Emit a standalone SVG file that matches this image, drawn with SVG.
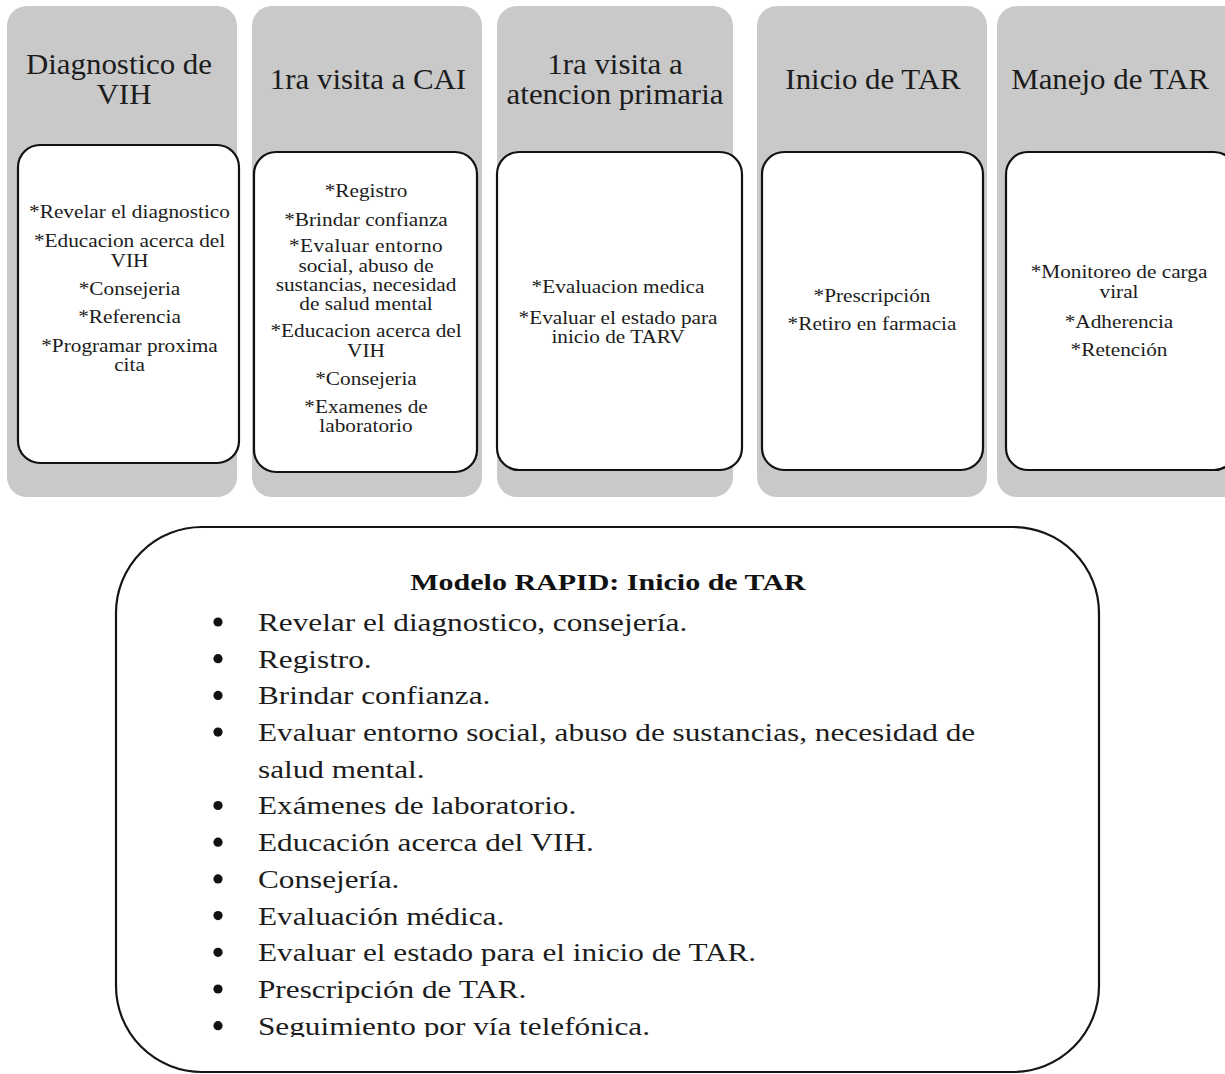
<svg xmlns="http://www.w3.org/2000/svg" width="1225" height="1074" viewBox="0 0 1225 1074">
  <defs>
    <style>
      .lane { fill: #c9c9c9; }
      .card { fill: #ffffff; stroke: #111111; stroke-width: 2.2; }
      .head { font-family: "Liberation Serif", "Times New Roman", serif; font-size: 29px; fill: #1c1c1c; text-anchor: middle; }
      .item { font-family: "Liberation Serif", "Times New Roman", serif; font-size: 19px; fill: #1c1c1c; text-anchor: middle; }
      .panel { fill: #ffffff; stroke: #151515; stroke-width: 2.2; }
      .ptitle { font-family: "Liberation Serif", "Times New Roman", serif; font-size: 24px; font-weight: bold; fill: #111111; text-anchor: middle; }
      .pitem { font-family: "Liberation Serif", "Times New Roman", serif; font-size: 25px; fill: #1c1c1c; }
      .dot { fill: #111111; }
    </style>
    <clipPath id="listClip">
      <rect x="100" y="500" width="1100" height="537"/>
    </clipPath>
  </defs>

  <rect width="1225" height="1074" fill="#ffffff"/>

  <!-- Stage 1 -->
  <g id="diagnostico">
    <rect class="lane" x="7" y="6" width="230" height="491" rx="20"/>
    <g transform="translate(119 0) scale(1.065 1)">
      <text class="head" x="0" y="74">Diagnostico de</text>
    </g>
    <g transform="translate(124 0) scale(1.065 1)">
      <text class="head" x="0" y="104">VIH</text>
    </g>
    <rect class="card" x="18" y="145" width="221" height="318" rx="22"/>
    <g transform="translate(129.5 0) scale(1.12 1)">
      <text class="item" x="0" y="218">*Revelar el diagnostico</text>
      <text class="item" x="0" y="247">*Educacion acerca del</text>
      <text class="item" x="0" y="267">VIH</text>
      <text class="item" x="0" y="295">*Consejeria</text>
      <text class="item" x="0" y="323">*Referencia</text>
      <text class="item" x="0" y="352">*Programar proxima</text>
      <text class="item" x="0" y="371">cita</text>
    </g>
  </g>

  <!-- Stage 2 -->
  <g id="visita-cai">
    <rect class="lane" x="252" y="6" width="230" height="491" rx="20"/>
    <g transform="translate(368 0) scale(1.065 1)">
      <text class="head" x="0" y="89">1ra visita a CAI</text>
    </g>
    <rect class="card" x="254" y="152" width="223" height="320" rx="22"/>
    <g transform="translate(366 0) scale(1.12 1)">
      <text class="item" x="0" y="197">*Registro</text>
      <text class="item" x="0" y="226">*Brindar confianza</text>
      <text class="item" x="0" y="252" letter-spacing="0.4">*Evaluar entorno</text>
      <text class="item" x="0" y="272">social, abuso de</text>
      <text class="item" x="0" y="291">sustancias, necesidad</text>
      <text class="item" x="0" y="310">de salud mental</text>
      <text class="item" x="0" y="337">*Educacion acerca del</text>
      <text class="item" x="0" y="357">VIH</text>
      <text class="item" x="0" y="385">*Consejeria</text>
      <text class="item" x="0" y="413">*Examenes de</text>
      <text class="item" x="0" y="432">laboratorio</text>
    </g>
  </g>

  <!-- Stage 3 -->
  <g id="atencion-primaria">
    <rect class="lane" x="497" y="6" width="236" height="491" rx="20"/>
    <g transform="translate(615 0) scale(1.065 1)">
      <text class="head" x="0" y="74">1ra visita a</text>
      <text class="head" x="0" y="104">atencion primaria</text>
    </g>
    <rect class="card" x="497" y="152" width="245" height="318" rx="22"/>
    <g transform="translate(618 0) scale(1.12 1)">
      <text class="item" x="0" y="293">*Evaluacion medica</text>
      <text class="item" x="0" y="324">*Evaluar el estado para</text>
      <text class="item" x="0" y="343">inicio de TARV</text>
    </g>
  </g>

  <!-- Stage 4 -->
  <g id="inicio-tar">
    <rect class="lane" x="757" y="6" width="230" height="491" rx="20"/>
    <g transform="translate(873 0) scale(1.065 1)">
      <text class="head" x="0" y="89">Inicio de TAR</text>
    </g>
    <rect class="card" x="762" y="152" width="221" height="318" rx="22"/>
    <g transform="translate(872 0) scale(1.12 1)">
      <text class="item" x="0" y="302">*Prescripción</text>
      <text class="item" x="0" y="330">*Retiro en farmacia</text>
    </g>
  </g>

  <!-- Stage 5 -->
  <g id="manejo-tar">
    <rect class="lane" x="997" y="6" width="250" height="491" rx="20"/>
    <g transform="translate(1110 0) scale(1.065 1)">
      <text class="head" x="0" y="89">Manejo de TAR</text>
    </g>
    <rect class="card" x="1006" y="152" width="230" height="318" rx="22"/>
    <g transform="translate(1119 0) scale(1.12 1)">
      <text class="item" x="0" y="278">*Monitoreo de carga</text>
      <text class="item" x="0" y="298">viral</text>
      <text class="item" x="0" y="328">*Adherencia</text>
      <text class="item" x="0" y="356">*Retención</text>
    </g>
  </g>

  <!-- RAPID model summary -->
  <g id="modelo-rapid">
    <rect class="panel" x="116" y="527" width="983" height="545" rx="86"/>
    <g transform="translate(608 0) scale(1.25 1)">
      <text class="ptitle" x="0" y="590">Modelo RAPID: Inicio de TAR</text>
    </g>
    <g clip-path="url(#listClip)">
      <g>
        <circle class="dot" cx="218" cy="622" r="4.6"/>
        <circle class="dot" cx="218" cy="658.7" r="4.6"/>
        <circle class="dot" cx="218" cy="695.4" r="4.6"/>
        <circle class="dot" cx="218" cy="732.1" r="4.6"/>
        <circle class="dot" cx="218" cy="805.5" r="4.6"/>
        <circle class="dot" cx="218" cy="842.2" r="4.6"/>
        <circle class="dot" cx="218" cy="878.9" r="4.6"/>
        <circle class="dot" cx="218" cy="915.6" r="4.6"/>
        <circle class="dot" cx="218" cy="952.3" r="4.6"/>
        <circle class="dot" cx="218" cy="989" r="4.6"/>
        <circle class="dot" cx="218" cy="1025.7" r="4.6"/>
      </g>
      <g transform="translate(258 0) scale(1.25 1)">
        <text class="pitem" x="0" y="631">Revelar el diagnostico, consejería.</text>
        <text class="pitem" x="0" y="667.7">Registro.</text>
        <text class="pitem" x="0" y="704.4">Brindar confianza.</text>
        <text class="pitem" x="0" y="741.1">Evaluar entorno social, abuso de sustancias, necesidad de</text>
        <text class="pitem" x="0" y="777.8">salud mental.</text>
        <text class="pitem" x="0" y="814.5">Exámenes de laboratorio.</text>
        <text class="pitem" x="0" y="851.2">Educación acerca del VIH.</text>
        <text class="pitem" x="0" y="887.9">Consejería.</text>
        <text class="pitem" x="0" y="924.6">Evaluación médica.</text>
        <text class="pitem" x="0" y="961.3">Evaluar el estado para el inicio de TAR.</text>
        <text class="pitem" x="0" y="998">Prescripción de TAR.</text>
        <text class="pitem" x="0" y="1034.7">Seguimiento por vía telefónica.</text>
      </g>
    </g>
  </g>

  <g id="connectors"/>
</svg>
